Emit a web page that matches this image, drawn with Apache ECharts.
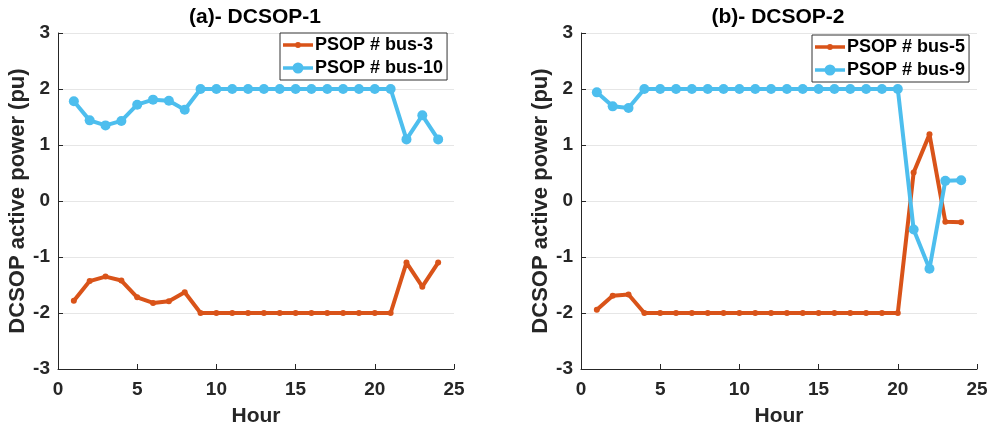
<!DOCTYPE html>
<html><head><meta charset="utf-8">
<script src="https://cdn.jsdelivr.net/npm/echarts@6/dist/echarts.min.js"></script>
<style>html,body{margin:0;padding:0;background:#fff}#c{width:993px;height:432px}</style>
</head><body><div id="c"></div>
<script>
const hours = [1,2,3,4,5,6,7,8,9,10,11,12,13,14,15,16,17,18,19,20,21,22,23,24];
const bus3  = [-1.78,-1.43,-1.35,-1.42,-1.72,-1.82,-1.79,-1.63,-2,-2,-2,-2,-2,-2,-2,-2,-2,-2,-2,-2,-2,-1.10,-1.53,-1.10];
const bus10 = [1.78,1.44,1.35,1.43,1.72,1.81,1.79,1.63,2,2,2,2,2,2,2,2,2,2,2,2,2,1.10,1.53,1.10];
const bus5  = [-1.94,-1.69,-1.67,-2,-2,-2,-2,-2,-2,-2,-2,-2,-2,-2,-2,-2,-2,-2,-2,-2,0.51,1.19,-0.37,-0.38];
const bus9  = [1.94,1.69,1.66,2,2,2,2,2,2,2,2,2,2,2,2,2,2,2,2,2,-0.51,-1.21,0.36,0.37];
const titles = ['(a)- DCSOP-1','(b)- DCSOP-2'];
const names = [['PSOP # bus-3','PSOP # bus-10'],['PSOP # bus-5','PSOP # bus-9']];
const xTicks = {min:0,max:25,interval:5};
const yTicks = {min:-3,max:3,interval:1};

const ORANGE = '#D95319', BLUE = '#4DBEEE';
const FONT = '"Liberation Sans", Arial, Helvetica, sans-serif';
const axisCol = '#262626';
const pair = (xs, ys) => xs.map((x,i)=>[x, ys[i]]);
// legend icons: thick line with a dot (30x14 box)
const LINE_SMALL_DOT = 'path://M0 0M30 14M0 5.3H30V8.7H0Z M12 7A3 3 0 1 1 18 7A3 3 0 1 1 12 7Z';
const LINE_BIG_DOT = 'path://M0 0M30 14M0 5.3H30V8.7H0Z M9.5 7A5.5 5.5 0 1 1 20.5 7A5.5 5.5 0 1 1 9.5 7Z';

const grids = [
  {left:58, top:33, width:396, height:337},
  {left:581, top:33, width:396, height:337}
];
function xA(i){return {gridIndex:i,type:'value',min:xTicks.min,max:xTicks.max,interval:xTicks.interval,
  name:'Hour',nameLocation:'middle',nameGap:37,
  nameTextStyle:{fontFamily:FONT,fontWeight:'bold',fontSize:21,color:axisCol},
  axisLine:{onZero:false,lineStyle:{color:axisCol,width:1}},
  axisTick:{inside:true,length:5,lineStyle:{color:axisCol}},
  axisLabel:{fontFamily:FONT,fontWeight:'bold',fontSize:19,color:axisCol,margin:11},
  splitLine:{show:false}};}
function yA(i){return {gridIndex:i,type:'value',min:yTicks.min,max:yTicks.max,interval:yTicks.interval,
  name:'DCSOP active power (pu)',nameLocation:'middle',nameGap:i===0?28:29,
  nameTextStyle:{fontFamily:FONT,fontWeight:'bold',fontSize:22,color:axisCol},
  axisLine:{show:true,lineStyle:{color:axisCol,width:1}},
  axisTick:{show:true,inside:true,length:5,lineStyle:{color:axisCol}},
  axisLabel:{fontFamily:FONT,fontWeight:'bold',fontSize:19,color:axisCol,margin:8},
  splitLine:{show:true,lineStyle:{color:'#e6e6e6',width:1}}};}

function ser(name, data, i, color, big){
  return {name, type:'line', xAxisIndex:i, yAxisIndex:i, data, color,
    symbol:'circle', symbolSize: big?10:6, showSymbol:true,
    lineStyle:{width:4,color}, itemStyle:{color}, z: big?5:4, animation:false};
}

const legends = [
  {data:[{name:names[0][0],icon:LINE_SMALL_DOT},{name:names[0][1],icon:LINE_BIG_DOT}], left:280, top:33},
  {data:[{name:names[1][0],icon:LINE_SMALL_DOT},{name:names[1][1],icon:LINE_BIG_DOT}], left:812, top:35}
].map(l=>Object.assign({
  orient:'vertical', padding:[3,4,3,3], itemGap:5, itemWidth:30, itemHeight:14,
  backgroundColor:'#fff', borderColor:'#333', borderWidth:1,
  textStyle:{fontFamily:FONT,fontWeight:'bold',fontSize:18,color:'#000',padding:[0,0,0,-3]}
}, l));

const chart = echarts.init(document.getElementById('c'), null, {renderer:'canvas'});
chart.setOption({
  animation:false,
  backgroundColor:'#fff',
  title: titles.map((t,i)=>({text:t,left:(i===0?250:773),top:2,textAlign:'center',
    textStyle:{fontFamily:FONT,fontWeight:'bold',fontSize:21,color:'#000'}})),
  grid: grids,
  xAxis:[xA(0),xA(1)],
  yAxis:[yA(0),yA(1)],
  legend: legends,
  series:[
    ser(names[0][0], pair(hours,bus3), 0, ORANGE, false),
    ser(names[0][1], pair(hours,bus10), 0, BLUE, true),
    ser(names[1][0], pair(hours,bus5), 1, ORANGE, false),
    ser(names[1][1], pair(hours,bus9), 1, BLUE, true)
  ]
});
</script></body></html>
